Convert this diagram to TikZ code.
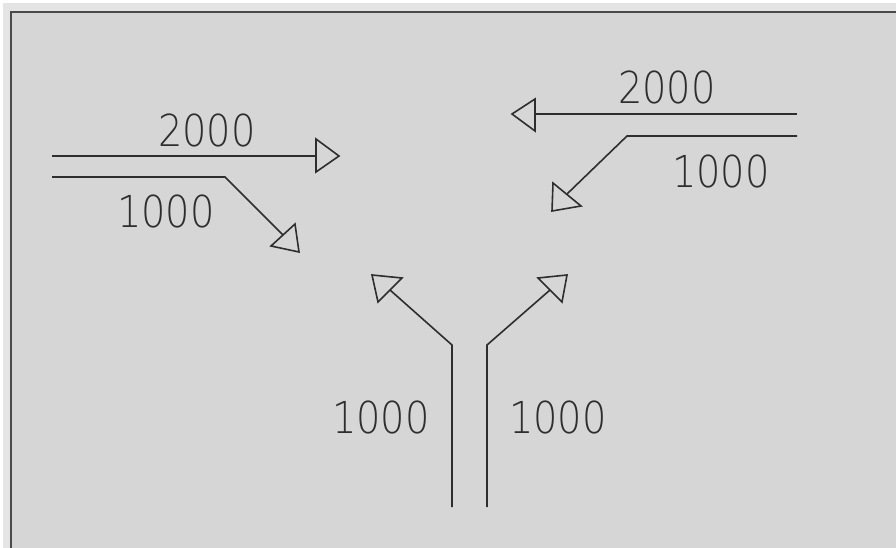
\documentclass[tikz,border=0pt]{standalone}
\usepackage{fontspec}
\setmainfont{Liberation Sans}
\newfontfamily\thinfont[FakeStretch=0.87]{DejaVu Sans ExtraLight}
\begin{document}
\begin{tikzpicture}[x=1pt,y=-1pt,
  flowline/.style={draw=ink,line width=1.6pt,line join=miter},
  headtri/.style={draw=ink,line width=1.6pt,line join=miter},
  lbl/.style={inner sep=0pt,text=ink,font=\thinfont\fontsize{44}{44}\selectfont}]
\definecolor{ink}{HTML}{2E2E2E}
\definecolor{panel}{HTML}{D6D6D6}
\definecolor{halo}{HTML}{E4E4E4}
\definecolor{frame}{HTML}{4A4A4A}
\useasboundingbox (0,0) rectangle (896,548);
\fill[white] (0,0) rectangle (896,548);
\fill[halo] (3,3) rectangle (896,548);
\fill[panel] (11,12) rectangle (896,548);
\draw[frame,line width=2.6pt] (11,548) -- (11,12) -- (896,12);

% top-left group
\coordinate (a1s) at (52,156);
\coordinate (a1b) at (316,156);
\draw[flowline] (a1s) -- (a1b);
\draw[headtri] (316,139) -- (339,156) -- (316,172) -- cycle;
\node[lbl] (t1) at (207,130) {2000};

\coordinate (a2s) at (52,177);
\coordinate (a2k) at (225,177);
\coordinate (a2b) at (283,235);
\draw[flowline] (a2s) -- (a2k) -- (a2b);
\draw[headtri] (271,246) -- (295,224) -- (299,252) -- cycle;
\node[lbl] (t2) at (166,211) {1000};

% top-right group
\coordinate (b1s) at (797,114);
\coordinate (b1b) at (535,114);
\draw[flowline] (b1s) -- (b1b);
\draw[headtri] (535,99) -- (512,114) -- (535,131) -- cycle;
\node[lbl] (t3) at (667,87) {2000};

\coordinate (b2s) at (797,136);
\coordinate (b2k) at (627,136);
\coordinate (b2b) at (567,194);
\draw[flowline] (b2s) -- (b2k) -- (b2b);
\draw[headtri] (553,183) -- (581,206) -- (552,211) -- cycle;
\node[lbl] (t4) at (721,171) {1000};

% bottom group
\coordinate (c1s) at (452,507);
\coordinate (c1k) at (452,345);
\coordinate (c1b) at (390,290);
\draw[flowline] (c1s) -- (c1k) -- (c1b);
\draw[headtri] (402,278) -- (372,275) -- (378,302) -- cycle;
\node[lbl] (t5) at (381,417) {1000};

\coordinate (c2s) at (487,507);
\coordinate (c2k) at (487,345);
\coordinate (c2b) at (550,290);
\draw[flowline] (c2s) -- (c2k) -- (c2b);
\draw[headtri] (538,278) -- (567,275) -- (562,302) -- cycle;
\node[lbl] (t6) at (558,417) {1000};
\end{tikzpicture}
\end{document}
